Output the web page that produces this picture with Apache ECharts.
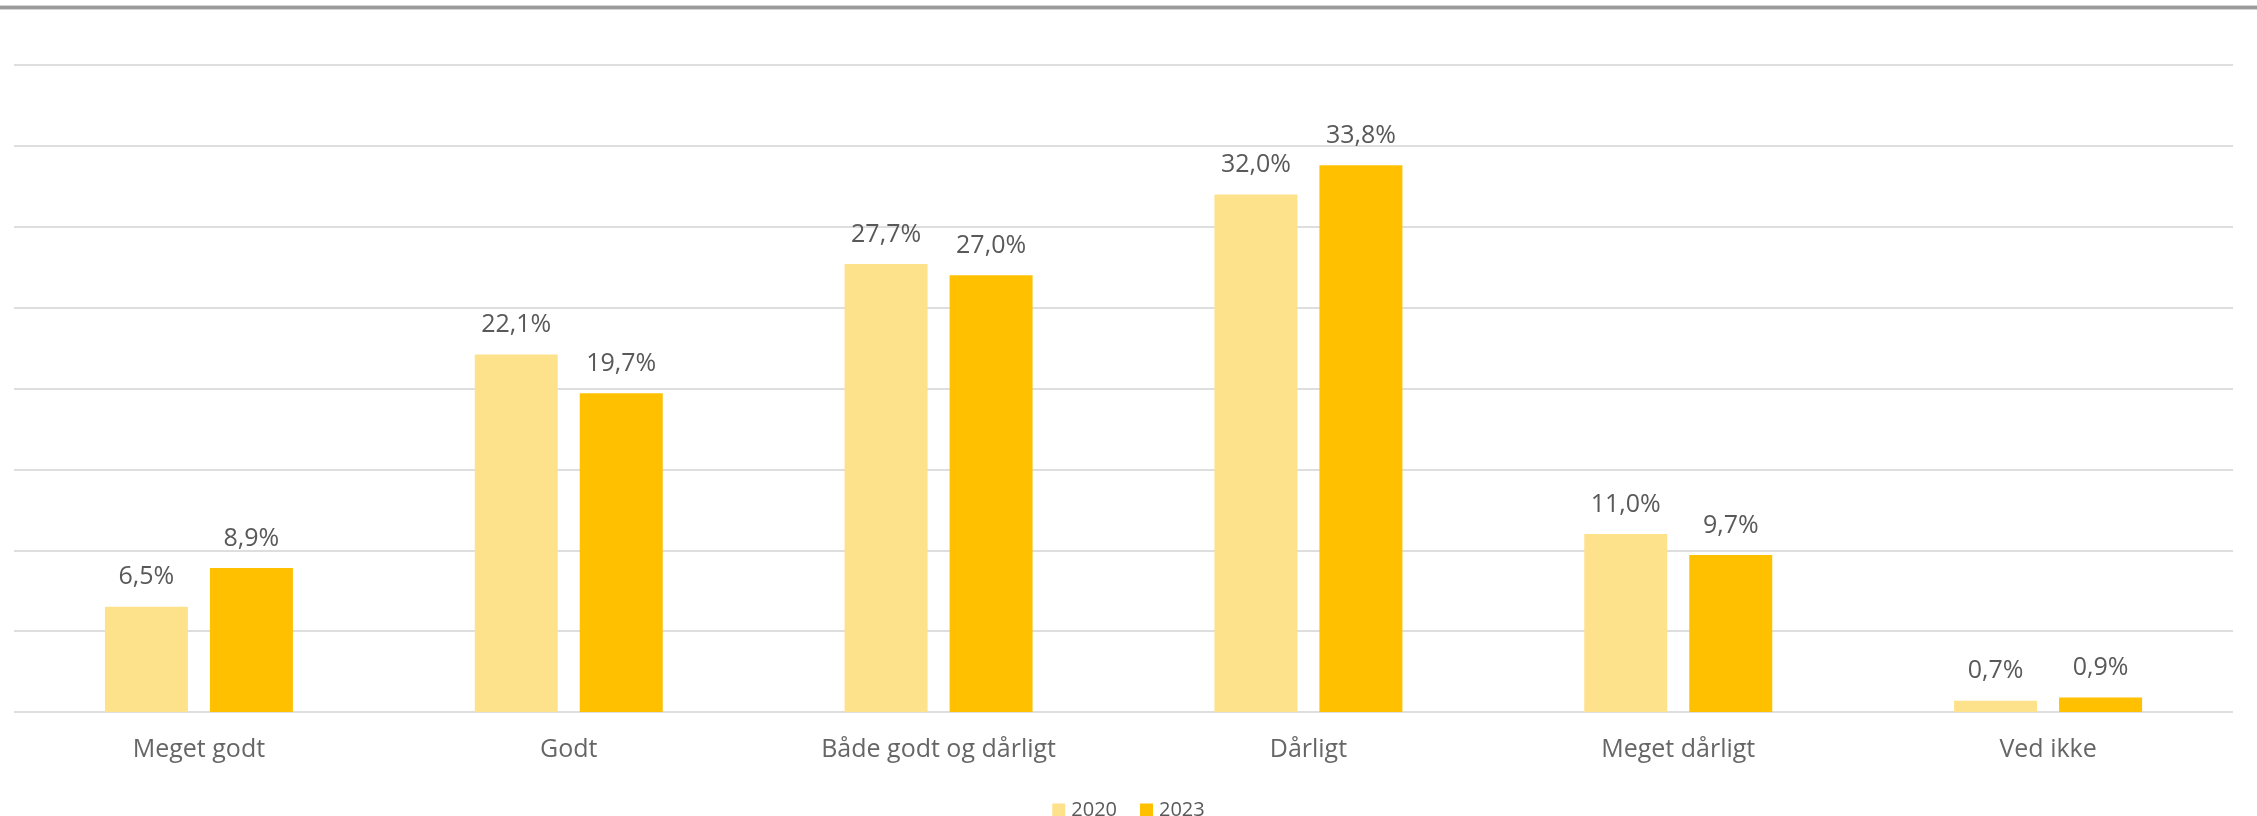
<!DOCTYPE html>
<html>
<head>
<meta charset="utf-8">
<script src="https://cdn.jsdelivr.net/npm/echarts@6/dist/echarts.min.js"></script>
<style>
  html, body { margin: 0; padding: 0; background: #ffffff; }
  #chart { width: 2257px; height: 816px; }
</style>
</head>
<body>
<div id="chart"></div>
<script>
const categories = ['Meget godt', 'Godt', 'Både godt og dårligt', 'Dårligt', 'Meget dårligt', 'Ved ikke'];
const values2020 = [6.5, 22.1, 27.7, 32.0, 11.0, 0.7];
const values2023 = [8.9, 19.7, 27.0, 33.8, 9.7, 0.9];
const seriesNames = ['2020', '2023'];

const FONT = '"Open Sans", "Noto Sans", sans-serif';
const fmt = p => p.value.toFixed(1).replace('.', ',') + '%';

const chart = echarts.init(document.getElementById('chart'), null, { renderer: 'canvas' });

const labelStyle = {
  show: true,
  position: 'top',
  distance: 17,
  formatter: fmt,
  color: '#595959',
  fontFamily: FONT,
  fontSize: 25
};

chart.setOption({
  animation: false,
  backgroundColor: '#ffffff',
  graphic: [
    { type: 'rect', left: 0, top: 5, shape: { width: 2257, height: 5 }, style: { fill: '#d4d4d4' }, silent: true },
    { type: 'rect', left: 0, top: 6, shape: { width: 2257, height: 3 }, style: { fill: '#9b9b9b' }, silent: true }
  ],
  grid: { left: 14, right: 24, top: 65, bottom: 104, containLabel: false },
  legend: {
    data: seriesNames,
    left: 'center',
    top: 795,
    icon: 'rect',
    itemWidth: 13,
    itemHeight: 13,
    itemGap: 23,
    textStyle: { color: '#595959', fontFamily: FONT, fontSize: 20, padding: [0, 0, 0, 1] }
  },
  xAxis: {
    type: 'category',
    data: categories,
    axisLine: { show: false },
    axisTick: { show: false },
    axisLabel: { color: '#666666', fontFamily: FONT, fontSize: 25, margin: 25 }
  },
  yAxis: {
    type: 'value',
    min: 0,
    max: 40,
    interval: 5,
    axisLabel: { show: false },
    axisLine: { show: false },
    axisTick: { show: false },
    splitLine: { lineStyle: { color: '#dedede', width: 2 } }
  },
  series: [
    {
      name: seriesNames[0],
      type: 'bar',
      data: values2020,
      barWidth: 83,
      barGap: '26.5%',
      itemStyle: { color: '#FEE28B' },
      label: labelStyle
    },
    {
      name: seriesNames[1],
      type: 'bar',
      data: values2023,
      barWidth: 83,
      barGap: '26.5%',
      itemStyle: { color: '#FFC000' },
      label: labelStyle
    }
  ]
});
</script>
</body>
</html>
